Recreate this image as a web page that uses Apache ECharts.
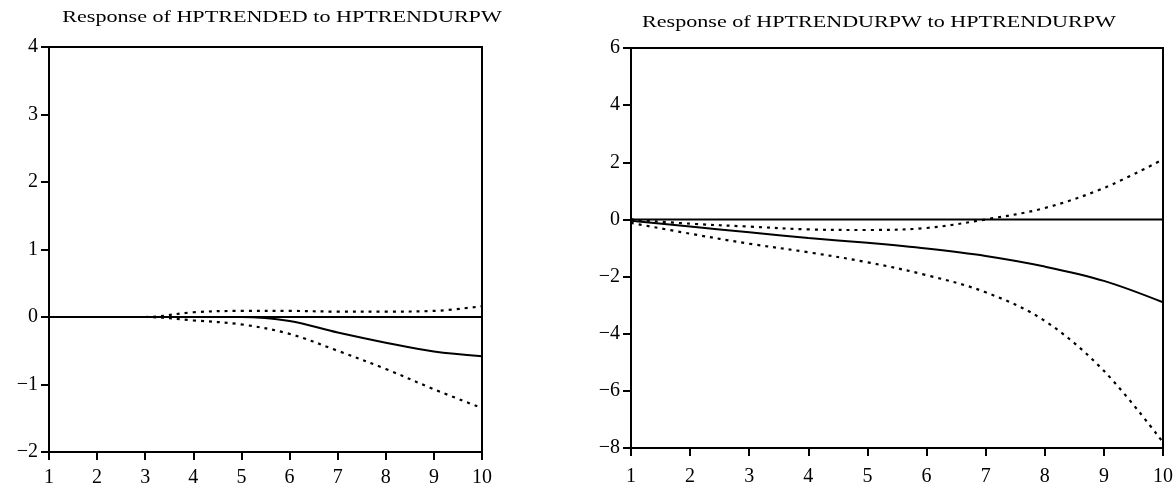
<!DOCTYPE html>
<html>
<head>
<meta charset="utf-8">
<script src="https://cdn.jsdelivr.net/npm/echarts@6/dist/echarts.min.js"></script>
<style>html,body{margin:0;padding:0;background:#fff;}#c{width:1176px;height:488px;}</style>
</head>
<body>
<div id="c"></div>
<script>
const periods = [1,2,3,4,5,6,7,8,9,10];
const titleLeft = 'Response of HPTRENDED to HPTRENDURPW';
const titleRight = 'Response of HPTRENDURPW to HPTRENDURPW';

// Left panel: Response of HPTRENDED to HPTRENDURPW
const leftResp  = [0, 0, 0, 0, 0, -0.06, -0.23, -0.38, -0.51, -0.58];
const leftUpper = [0, 0, 0, 0.07, 0.09, 0.09, 0.08, 0.08, 0.09, 0.16];
const leftLower = [0, 0, 0, -0.05, -0.11, -0.25, -0.50, -0.77, -1.07, -1.35];
const leftTicks = [-2, -1, 0, 1, 2, 3, 4];

// Right panel: Response of HPTRENDURPW to HPTRENDURPW
const rightResp  = [-0.05, -0.25, -0.45, -0.65, -0.82, -1.02, -1.28, -1.65, -2.15, -2.9];
const rightUpper = [0.0, -0.15, -0.25, -0.35, -0.37, -0.3, 0.0, 0.4, 1.1, 2.1];
const rightLower = [-0.12, -0.5, -0.85, -1.15, -1.5, -1.95, -2.55, -3.55, -5.3, -7.8];
const rightTicks = [-8, -6, -4, -2, 0, 2, 4, 6];

const zeros = periods.map(() => 0);
const pts = arr => periods.map((p, i) => [p, arr[i]]);
const fmt = v => (v < 0 ? '\u2212' + Math.abs(v) : String(v));
const FONT = 'Liberation Serif';

const chart = echarts.init(document.getElementById('c'), null, {renderer: 'canvas'});

function xAxis(gi, margin) {
  return {
    type: 'value', gridIndex: gi, min: 1, max: 10, interval: 1,
    axisLine: {show: true, onZero: false, lineStyle: {color: '#000', width: 2}},
    axisTick: {show: true, inside: false, length: 8, lineStyle: {color: '#000', width: 2}},
    axisLabel: {color: '#000', fontFamily: FONT, fontSize: 20, margin: margin},
    splitLine: {show: false}
  };
}
function yAxis(gi, ticks, interval) {
  return {
    type: 'value', gridIndex: gi, min: ticks[0], max: ticks[ticks.length - 1], interval: interval,
    axisLine: {show: true, lineStyle: {color: '#000', width: 2}},
    axisTick: {show: true, inside: false, length: 8, lineStyle: {color: '#000', width: 2}},
    axisLabel: {color: '#000', fontFamily: FONT, fontSize: 20, margin: 11, formatter: fmt},
    splitLine: {show: false}
  };
}
function line(gi, data, dashed) {
  return {
    type: 'line', xAxisIndex: gi, yAxisIndex: gi, data: pts(data),
    showSymbol: false, symbol: 'none', smooth: 0.35, silent: true,
    lineStyle: dashed ? {color: '#000', width: 2.2, type: [3, 5]} : {color: '#000', width: 2},
    z: dashed ? 3 : 4
  };
}
function titleText(text, cx, cy) {
  return {
    type: 'text', x: cx, y: cy, scaleX: 1.3, scaleY: 1, silent: true,
    style: {text: text, fontFamily: FONT, fontSize: 17, fill: '#000', align: 'center', verticalAlign: 'middle'}
  };
}

chart.setOption({
  animation: false,
  backgroundColor: '#fff',
  graphic: [
    titleText(titleLeft, 282, 18),
    titleText(titleRight, 879, 23)
  ],
  grid: [
    {left: 49, right: 1176 - 482, top: 47, bottom: 488 - 452, show: true, borderColor: '#000', borderWidth: 2, backgroundColor: 'transparent'},
    {left: 631, right: 1176 - 1163, top: 48, bottom: 488 - 448, show: true, borderColor: '#000', borderWidth: 2, backgroundColor: 'transparent'}
  ],
  xAxis: [xAxis(0, 16), xAxis(1, 19)],
  yAxis: [yAxis(0, leftTicks, 1), yAxis(1, rightTicks, 2)],
  series: [
    line(0, zeros, false),
    line(0, leftResp, false),
    line(0, leftUpper, true),
    line(0, leftLower, true),
    line(1, zeros, false),
    line(1, rightResp, false),
    line(1, rightUpper, true),
    line(1, rightLower, true)
  ]
});
</script>
</body>
</html>
